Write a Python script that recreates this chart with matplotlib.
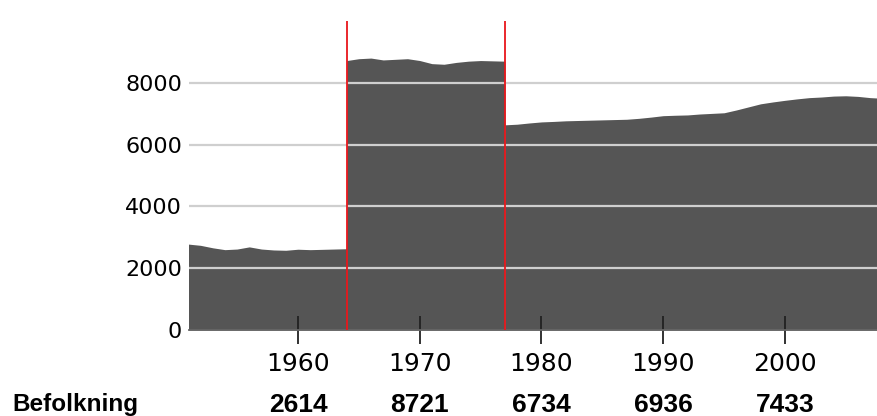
import numpy as np
import matplotlib.pyplot as plt

# befolkning per år, tre perioder (grenseendringer 1964 og 1977)
years1 = list(range(1951, 1965))
pop1 = [2780, 2740, 2660, 2600, 2620, 2690, 2620, 2590, 2580, 2614, 2600, 2610, 2620, 2630]
years2 = list(range(1964, 1978))
pop2 = [8720, 8780, 8800, 8740, 8760, 8780, 8721, 8620, 8600, 8660, 8700, 8720, 8710, 8700]
years3 = list(range(1977, 2009))
pop3 = [6640, 6660, 6700, 6734, 6750, 6770, 6780, 6790, 6800, 6810, 6820, 6850, 6890, 6936,
        6950, 6960, 6990, 7010, 7030, 7120, 7220, 7320, 7380, 7433, 7480, 7520, 7540, 7570,
        7580, 7560, 7520, 7500]
breaks = [1964, 1977]

table_years = [1960, 1970, 1980, 1990, 2000]
table_vals = ['2614', '8721', '6734', '6936', '7433']
yticks = [0, 2000, 4000, 6000, 8000]

fig = plt.figure(figsize=(8.77, 4.16), dpi=100)
ax = fig.add_axes([189 / 877, 86 / 416, 688 / 877, 309 / 416])

for yrs, vals in [(years1, pop1), (years2, pop2), (years3, pop3)]:
    ax.fill_between(yrs, 0, vals, color='#555555', lw=0, zorder=1)

for y in yticks[1:]:
    ax.axhline(y, color='#cfcfcf', lw=1.6, zorder=2)

for b in breaks:
    ax.axvline(b, color='#e8161b', lw=1.3, zorder=3)

ax.set_xlim(1951.05, 2007.56)
ax.set_ylim(0, 10000)
ax.set_yticks(yticks)
ax.set_xticks(table_years)
ax.tick_params(axis='y', length=0, pad=5, labelsize=16)
ax.tick_params(axis='x', direction='inout', length=20, width=1.3, color='#222222',
               pad=6, labelsize=18)
for s in ['top', 'right', 'left']:
    ax.spines[s].set_visible(False)
ax.spines['bottom'].set_color('#666666')
ax.spines['bottom'].set_linewidth(1.3)

# tabellrad under aksen
fig.text(12 / 877, 11 / 416, 'Befolkning', fontsize=17.5, fontweight='bold',
         family='Liberation Sans', va='center', ha='left')
for yr, v in zip(table_years, table_vals):
    xf = (189 + (yr - 1951.05) * 688 / (2007.56 - 1951.05)) / 877
    fig.text(xf, 11 / 416, v, fontsize=19, fontweight='bold',
             family='Liberation Sans', va='center', ha='center')

fig.savefig('out.png', dpi=100)
